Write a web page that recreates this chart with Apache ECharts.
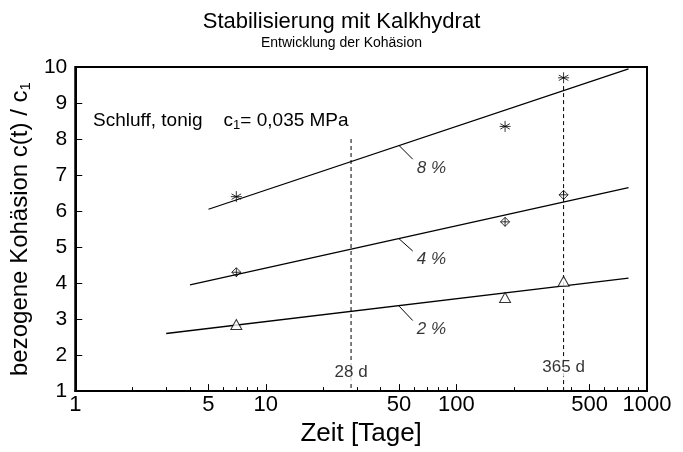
<!DOCTYPE html>
<html>
<head>
<meta charset="utf-8">
<script src="https://cdn.jsdelivr.net/npm/echarts@6/dist/echarts.min.js"></script>
<style>
  html, body { margin: 0; padding: 0; background: #fff; }
  #chart { width: 683px; height: 452px; }
</style>
</head>
<body>
<div id="chart"></div>
<script>
// Messwerte (Zeit in Tagen, bezogene Kohäsion)
const days = [7, 180, 365]
const val8 = [6.4, 8.35, 9.7]
const val4 = [4.3, 5.7, 6.45]
const val2 = [2.85, 3.6, 4.05]

// Regressionsgeraden (Anfang / Ende)
const fitDays8 = [5, 800]
const fit8 = [6.05, 9.95]
const fitDays4 = [4, 800]
const fit4 = [3.95, 6.65]
const fitDays2 = [3, 800]
const fit2 = [2.6, 4.14]

// Bezugslinien 28 d / 365 d
const refDays = [28, 365]
const refTop = [8.0, 9.47]
const refBottom = [1, 1]
const refLabels = ['28 d', '365 d']
const refLabelVal = [1.53, 1.67]

// Beschriftung der Geraden
const curveNames = ['8 %', '4 %', '2 %']
const leaderFromDays = [50, 50, 50]
const leaderFromVal = [7.82, 5.23, 3.36]
const leaderToDays = [59, 59, 59]
const leaderToVal = [7.44, 4.89, 2.96]
const nameDays = [62, 62, 62]
const nameVal = [7.2, 4.65, 2.73]

const xLabelValues = [1, 5, 10, 50, 100, 500, 1000]
const xMinorTicks = [2, 3, 4, 6, 7, 8, 9, 20, 30, 40, 60, 70, 80, 90,
  200, 300, 400, 600, 700, 800, 900]

const FONT = '"Liberation Sans", Arial, sans-serif'

const STAR = 'path://M0,-10L0,10M-8.7,-5L8.7,5M-8.7,5L8.7,-5M-10,0L10,0'
const CROSS_CIRCLE = 'path://M0,-10L10,0L0,10L-10,0ZM0,-10L0,10M-10,0L10,0'

const zip = (xs, ys) => xs.map((x, i) => [x, ys[i]])

function pointSeries(data, symbol, size, fill) {
  return {
    type: 'scatter',
    data: data,
    symbol: symbol,
    symbolSize: size,
    itemStyle: { color: fill, borderColor: '#000', borderWidth: 1 },
    z: 5
  }
}

function fitSeries(data) {
  return {
    type: 'line',
    data: data,
    symbol: 'none',
    lineStyle: { color: '#000', width: 1.3 }
  }
}

const series = [
  fitSeries(zip(fitDays8, fit8)),
  fitSeries(zip(fitDays4, fit4)),
  fitSeries(zip(fitDays2, fit2)),
  pointSeries(zip(days, val8), STAR, 11, 'none'),
  pointSeries(zip(days, val4), CROSS_CIRCLE, 9, 'none'),
  pointSeries(zip(days, val2), 'triangle', [11, 10], '#fff')
]

// gestrichelte Bezugslinien
refDays.forEach((d, i) => {
  series.push({
    type: 'line',
    data: [[d, refTop[i]], [d, refBottom[i]]],
    symbol: 'none',
    lineStyle: { color: '#000', width: 1, type: [4, 3] }
  })
})
series.push({
  type: 'scatter',
  data: zip(refDays, refLabelVal).map((p, i) => ({ value: p, name: refLabels[i] })),
  symbolSize: 0,
  z: 6,
  label: {
    show: true, position: 'inside', formatter: '{b}',
    backgroundColor: '#fff', padding: [1, 2],
    color: '#000', fontFamily: FONT, fontSize: 17
  }
})

// Kurvenbeschriftung mit Hinweisstrich
curveNames.forEach((n, i) => {
  series.push({
    type: 'line',
    data: [[leaderFromDays[i], leaderFromVal[i]], [leaderToDays[i], leaderToVal[i]]],
    symbol: 'none',
    lineStyle: { color: '#000', width: 1 }
  })
})
series.push({
  type: 'scatter',
  data: zip(nameDays, nameVal).map((p, i) => ({ value: p, name: curveNames[i] })),
  symbolSize: 0,
  label: {
    show: true, position: 'right', distance: 0, formatter: '{b}',
    color: '#000', fontFamily: FONT, fontSize: 17, fontStyle: 'italic'
  }
})

const chart = echarts.init(document.getElementById('chart'), null, { renderer: 'canvas' })

chart.setOption({
  animation: false,
  backgroundColor: '#fff',
  title: {
    text: 'Stabilisierung mit Kalkhydrat',
    subtext: 'Entwicklung der Kohäsion',
    left: 'center',
    top: 6,
    itemGap: 3,
    textStyle: { fontFamily: FONT, fontSize: 22, fontWeight: 'normal', color: '#000' },
    subtextStyle: { fontFamily: FONT, fontSize: 14, color: '#000' }
  },
  grid: {
    left: 73, right: 36, top: 67, bottom: 47,
    show: true, borderColor: '#000', borderWidth: 2, backgroundColor: 'transparent'
  },
  xAxis: [{
    type: 'log',
    logBase: 10,
    min: 1,
    max: 1000,
    name: 'Zeit [Tage]',
    nameLocation: 'middle',
    nameGap: 21,
    nameTextStyle: { fontFamily: FONT, fontSize: 26, color: '#000' },
    axisLine: { lineStyle: { color: '#000', width: 2 } },
    axisTick: { inside: true, length: 7, customValues: xLabelValues, lineStyle: { color: '#000' } },
    axisLabel: {
      customValues: xLabelValues, margin: 3,
      formatter: v => String(Math.round(v)),
      fontFamily: FONT, fontSize: 22, color: '#000'
    },
    splitLine: { show: false }
  }, {
    // nur kleine Teilstriche
    type: 'log',
    logBase: 10,
    min: 1,
    max: 1000,
    position: 'bottom',
    axisLine: { show: false },
    axisTick: { inside: true, length: 4, customValues: xMinorTicks, lineStyle: { color: '#000' } },
    axisLabel: { show: false },
    splitLine: { show: false }
  }],
  yAxis: {
    type: 'value',
    min: 1,
    max: 10,
    interval: 1,
    name: '{a|bezogene Kohäsion c(t) / c}{s|1}',
    nameLocation: 'middle',
    nameGap: 31,
    nameTextStyle: {
      rich: {
        a: { fontFamily: FONT, fontSize: 24, color: '#000' },
        s: { fontFamily: FONT, fontSize: 15, color: '#000', padding: [11, 0, 0, 0] }
      }
    },
    axisLine: { lineStyle: { color: '#000', width: 2 } },
    axisTick: { inside: true, length: 7, lineStyle: { color: '#000' } },
    axisLabel: { margin: 8, fontFamily: FONT, fontSize: 21, color: '#000' },
    splitLine: { show: false }
  },
  graphic: [{
    type: 'text',
    left: 93,
    top: 111,
    style: {
      text: '{a|Schluff, tonig    c}{s|1}{a|= 0,035 MPa}',
      rich: {
        a: { fontFamily: FONT, fontSize: 19, fill: '#000' },
        s: { fontFamily: FONT, fontSize: 13, fill: '#000', padding: [9, 0, 0, 0] }
      }
    }
  }],
  series: series
})
</script>
</body>
</html>
